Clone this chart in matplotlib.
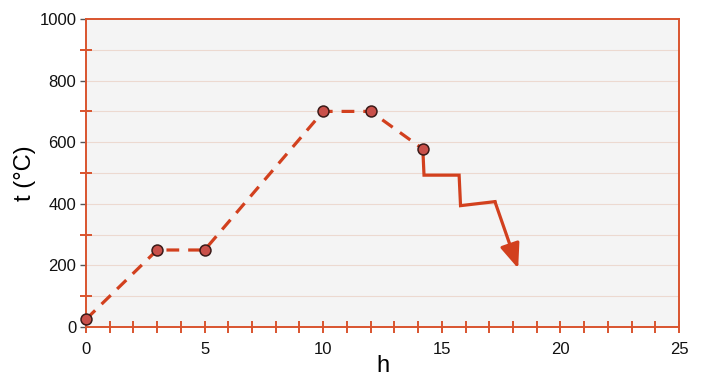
import matplotlib
matplotlib.use("Agg")
import matplotlib.pyplot as plt
from matplotlib.ticker import MultipleLocator

plt.rcParams["font.family"] = ["Liberation Sans", "DejaVu Sans"]

# Heating schedule (dashed with markers)
hours = [0, 3, 5, 10, 12, 14.2]
temps = [25, 250, 250, 700, 700, 578]

# Cooling path (solid, ending in an arrow)
cool_h = [14.2, 14.25, 15.73, 15.79, 17.24, 18.22]
cool_t = [578, 493, 493, 394, 407, 190]

x_ticks = [0, 5, 10, 15, 20, 25]
y_ticks = [0, 200, 400, 600, 800, 1000]

line_c = "#d2401e"
spine_c = "#d9542e"

fig = plt.figure(figsize=(7.02, 3.80), dpi=100)
ax = fig.add_axes([86 / 702, 1 - 327 / 380, (679 - 86) / 702, (327 - 19) / 380])
ax.set_facecolor("#f4f4f4")

ax.set_xlim(0, 25)
ax.set_ylim(0, 1000)

for y in range(100, 1000, 100):
    ax.axhline(y, color="#ecd9d0", lw=0.8, zorder=0)

ax.plot(hours, temps, color=line_c, lw=2.3, ls=(0, (4, 2.8)), zorder=2)
ax.plot(cool_h[:-1], cool_t[:-1], color=line_c, lw=2.3, zorder=2, solid_joinstyle="miter")
ax.annotate("", xy=(cool_h[-1], cool_t[-1]), xytext=(cool_h[-2], cool_t[-2]),
            arrowprops=dict(arrowstyle="-|>,head_length=1.5,head_width=0.6",
                            color=line_c, lw=2.3, shrinkA=0, shrinkB=0), zorder=2)
ax.scatter(hours, temps, s=62, facecolor="#c9504a", edgecolor="#3a1a18", lw=1.1, zorder=3,
           clip_on=False)

for s in ["left", "right", "top", "bottom"]:
    ax.spines[s].set_color(spine_c)
    ax.spines[s].set_linewidth(1.4)

ax.set_xticks(x_ticks)
ax.set_yticks(y_ticks)
ax.xaxis.set_minor_locator(MultipleLocator(1))
ax.yaxis.set_minor_locator(MultipleLocator(100))
ax.tick_params(axis="both", which="minor", direction="inout", color=spine_c, width=1.4, length=8)
ax.tick_params(axis="x", which="major", direction="inout", color=spine_c, width=1.4, length=8,
               labelsize=12, labelcolor="#111111", pad=7)
ax.tick_params(axis="y", which="major", direction="out", color="#555555", width=1.0, length=4,
               labelsize=12, labelcolor="#111111", pad=3)

ax.set_xlabel("h", fontsize=17, labelpad=-2)
ax.set_ylabel("t (°C)", fontsize=17, labelpad=2)

fig.savefig("out.png", dpi=100)
